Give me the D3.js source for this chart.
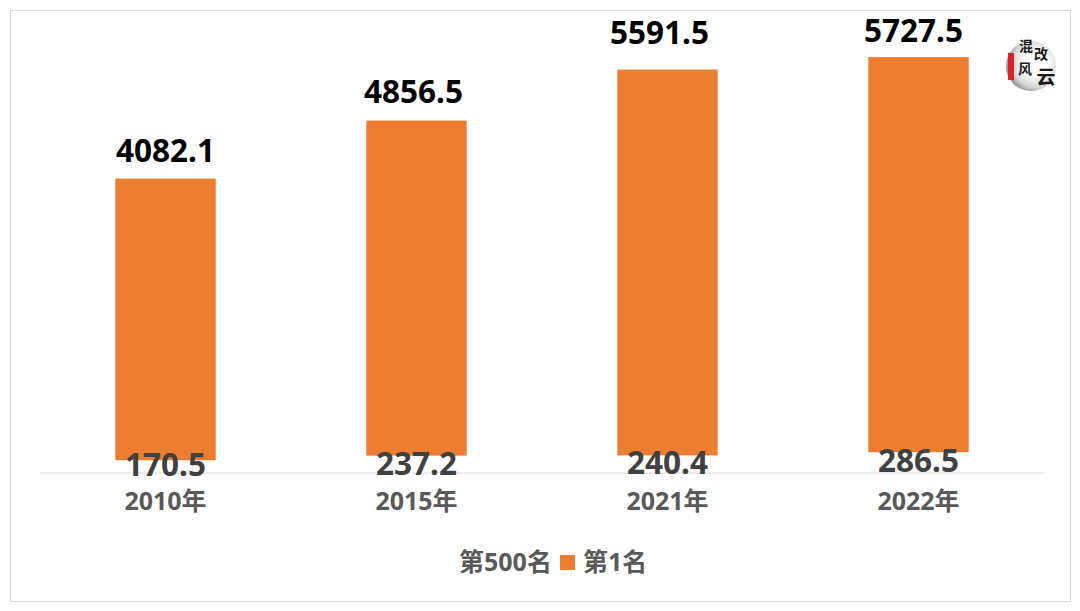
<!DOCTYPE html>
<html><head><meta charset="utf-8">
<script src="https://cdn.jsdelivr.net/npm/d3@7"></script>
<style>html,body{margin:0;padding:0;background:#fff}svg{display:block}
text{font-family:"Noto Sans","Noto Sans CJK SC",sans-serif}</style></head>
<body><svg id="c" width="1080" height="611"></svg>
<script>
const categories=["2010年","2015年","2021年","2022年"];
const rank500=[170.5,237.2,240.4,286.5];
const rank1=[4082.1,4856.5,5591.5,5727.5];
const legendLabels=["第500名","第1名"];
const logoChars=["混","改","风","云"];

const svg=d3.select("#c");
svg.append("rect").attr("x",10.5).attr("y",10.5).attr("width",1060).attr("height",591)
  .attr("fill","#fff").attr("stroke","#d9d9d9").attr("stroke-width",1);

const x=d3.scaleBand().domain(categories).range([40,1044]).paddingInner(0.6).paddingOuter(0.3);
const y=d3.scaleLinear().domain([0,6000]).range([472,58]);

const rows=categories.map((c,i)=>({c,low:rank500[i],high:rank1[i]}));
const topNudge=[17,17.5,26,15];
const topShift=[0,-3,-8,-5];
const lowNudge=[16,19,19,20];

svg.selectAll("rect.bar").data(rows).join("rect").attr("class","bar")
  .attr("x",d=>x(d.c)).attr("width",x.bandwidth())
  .attr("y",d=>y(d.low+d.high)).attr("height",d=>y(d.low)-y(d.low+d.high))
  .attr("fill","#ed7d31");

const axis=svg.append("g").attr("transform","translate(0,472.5)")
  .call(d3.axisBottom(x).tickSize(0).tickPadding(20));
axis.select(".domain").attr("stroke","#d9d9d9").attr("stroke-width",1.2);
axis.selectAll("text").attr("fill","#595959").attr("font-size",25).attr("font-weight",700)
  .style("font-family",'"Noto Sans","Noto Sans CJK SC",sans-serif');

svg.selectAll("text.top").data(rows).join("text").attr("class","top")
  .attr("x",(d,i)=>x(d.c)+x.bandwidth()/2+topShift[i]).attr("y",(d,i)=>y(d.low+d.high)-topNudge[i])
  .attr("text-anchor","middle").attr("font-size",31.5).attr("font-weight",700).attr("fill","#000")
  .text(d=>d.high.toFixed(1));

svg.selectAll("text.low").data(rows).join("text").attr("class","low")
  .attr("x",d=>x(d.c)+x.bandwidth()/2).attr("y",(d,i)=>y(d.low)+lowNudge[i])
  .attr("text-anchor","middle").attr("font-size",31.5).attr("font-weight",700).attr("fill","#404040")
  .text(d=>d.low.toFixed(1));

const lg=svg.append("g");
lg.append("text").attr("x",459).attr("y",571).attr("font-size",25).attr("font-weight",700).attr("fill","#595959").text(legendLabels[0]);
lg.append("rect").attr("x",560).attr("y",555).attr("width",15).attr("height",15).attr("fill","#ed7d31");
lg.append("text").attr("x",583).attr("y",571).attr("font-size",25).attr("font-weight",700).attr("fill","#595959").text(legendLabels[1]);

// logo mark
const defs=svg.append("defs");
const g=defs.append("radialGradient").attr("id","lg").attr("cx","0.6").attr("cy","0.45").attr("r","0.6");
g.append("stop").attr("offset","0.4").attr("stop-color","#fff");
g.append("stop").attr("offset","0.8").attr("stop-color","#d6d6d6");
g.append("stop").attr("offset","1").attr("stop-color","#8f8f8f");
const logo=svg.append("g");
logo.append("circle").attr("cx",1031).attr("cy",66).attr("r",25).attr("fill","url(#lg)");
logo.append("rect").attr("x",1008).attr("y",53).attr("width",6).attr("height",27).attr("fill","#d8232a");
const lp=[[1026,51,14],[1041,59,14],[1025,74,14],[1046,84,19]];
logo.selectAll("text").data(logoChars).join("text")
  .attr("x",(d,i)=>lp[i][0]).attr("y",(d,i)=>lp[i][1]).attr("font-size",(d,i)=>lp[i][2])
  .attr("text-anchor","middle").attr("font-weight",700).attr("fill","#1a1a1a")
  .style("font-family",'"Noto Sans CJK SC",sans-serif').text(d=>d);
</script></body></html>
